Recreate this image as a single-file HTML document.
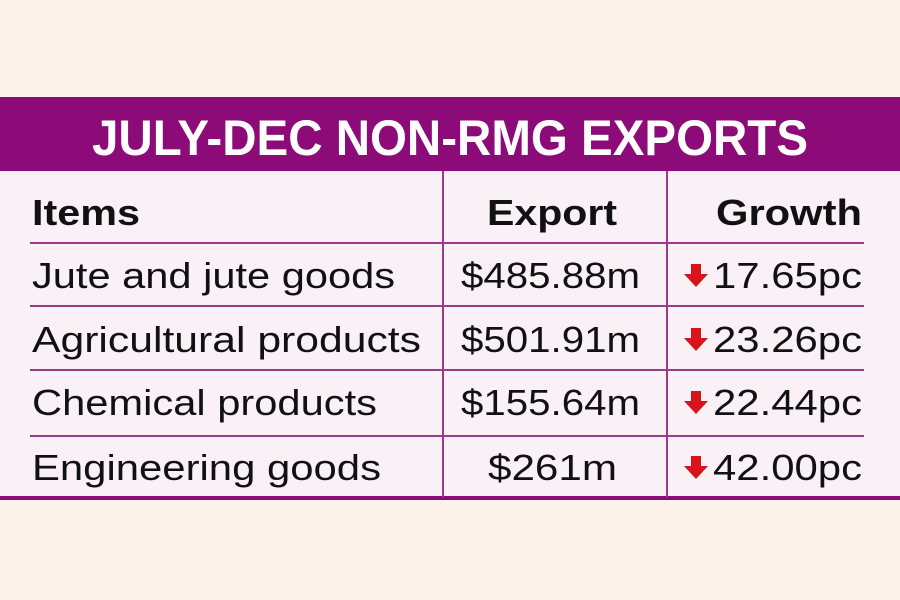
<!DOCTYPE html>
<html><head><meta charset="utf-8"><style>
html,body{margin:0;padding:0;background:#fdf3ea;}
svg{display:block}
text{font-family:"Liberation Sans",sans-serif;}
</style></head><body>
<svg width="900" height="600" viewBox="0 0 900 600" xmlns="http://www.w3.org/2000/svg">
<rect width="900" height="600" fill="#fdf3ea"/>
<rect x="0" y="97" width="900" height="74" fill="#8c0b79"/>
<rect x="0" y="171" width="900" height="326" fill="#f9f1f5"/>
<rect x="0" y="496" width="900" height="4" fill="#8c0b79"/>
<text x="92" y="155" font-size="50" font-weight="bold" fill="#fff" textLength="716" lengthAdjust="spacingAndGlyphs">JULY-DEC NON-RMG EXPORTS</text>
<g stroke="#9a3a8c" stroke-width="2">
<line x1="443" y1="171" x2="443" y2="497"/>
<line x1="667" y1="171" x2="667" y2="497"/>
<line x1="30" y1="243" x2="864" y2="243"/>
<line x1="30" y1="306" x2="864" y2="306"/>
<line x1="30" y1="370" x2="864" y2="370"/>
<line x1="30" y1="436" x2="864" y2="436"/>
</g>
<g font-size="36" fill="#111">
<text x="32" y="225" font-weight="bold" textLength="108" lengthAdjust="spacingAndGlyphs">Items</text>
<text x="487" y="225" font-weight="bold" textLength="130" lengthAdjust="spacingAndGlyphs">Export</text>
<text x="716" y="225" font-weight="bold" textLength="146" lengthAdjust="spacingAndGlyphs">Growth</text>
<text x="32" y="288" textLength="363" lengthAdjust="spacingAndGlyphs">Jute and jute goods</text>
<text x="32" y="352" textLength="389" lengthAdjust="spacingAndGlyphs">Agricultural products</text>
<text x="32" y="415" textLength="345" lengthAdjust="spacingAndGlyphs">Chemical products</text>
<text x="32" y="480" textLength="349" lengthAdjust="spacingAndGlyphs">Engineering goods</text>
<text x="461" y="288" textLength="179" lengthAdjust="spacingAndGlyphs">$485.88m</text>
<text x="461" y="352" textLength="179" lengthAdjust="spacingAndGlyphs">$501.91m</text>
<text x="461" y="415" textLength="179" lengthAdjust="spacingAndGlyphs">$155.64m</text>
<text x="488" y="480" textLength="129" lengthAdjust="spacingAndGlyphs">$261m</text>
<text x="713" y="288" textLength="149" lengthAdjust="spacingAndGlyphs">17.65pc</text>
<text x="713" y="352" textLength="149" lengthAdjust="spacingAndGlyphs">23.26pc</text>
<text x="713" y="415" textLength="149" lengthAdjust="spacingAndGlyphs">22.44pc</text>
<text x="713" y="480" textLength="149" lengthAdjust="spacingAndGlyphs">42.00pc</text>
</g>
<g fill="#d9121b">
<path d="M691 264h10v10h7l-12 13l-12-13h7z"/>
<path d="M691 328h10v10h7l-12 13l-12-13h7z"/>
<path d="M691 391h10v10h7l-12 13l-12-13h7z"/>
<path d="M691 456h10v10h7l-12 13l-12-13h7z"/>
</g>
</svg>
</body></html>
